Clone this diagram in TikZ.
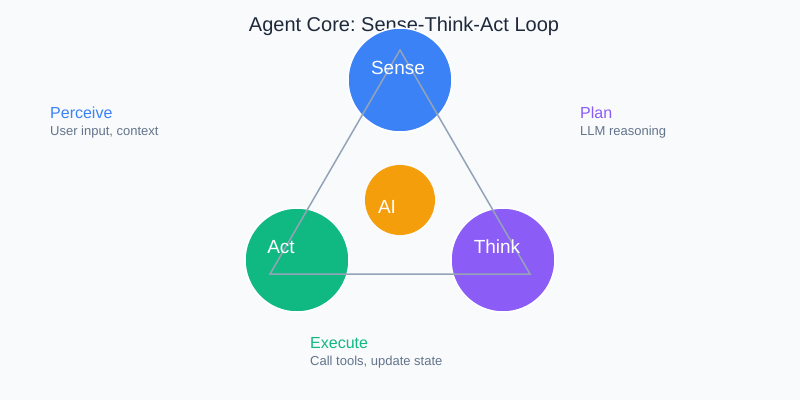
\documentclass[tikz,border=0pt]{standalone}
\usepackage{fontspec}
\setmainfont{Liberation Sans}
\usepackage{tikz}

\definecolor{bgcol}{HTML}{F8FAFC}
\definecolor{titlecol}{HTML}{1E293B}
\definecolor{subcol}{HTML}{64748B}
\definecolor{linecol}{HTML}{94A3B8}
\definecolor{sensecol}{HTML}{3B82F6}
\definecolor{thinkcol}{HTML}{8B5CF6}
\definecolor{actcol}{HTML}{10B981}
\definecolor{aicol}{HTML}{F59E0B}

\tikzset{
  stage/.style={circle, minimum size=104pt, draw=white, line width=1.5pt, inner sep=0pt},
  stagetext/.style={anchor=base, inner sep=0pt, text=white, font=\fontsize{19}{23}\selectfont},
  head/.style={anchor=base west, inner sep=0pt, font=\fontsize{16}{19}\selectfont},
  sub/.style={anchor=base west, inner sep=0pt, text=subcol, font=\fontsize{13}{16}\selectfont}
}

\begin{document}
\frenchspacing
\begin{tikzpicture}[x=1pt,y=-1pt]
      \fill[bgcol] (0,0) rectangle (800,400);
      \useasboundingbox (0,0) rectangle (800,400);

      \node[anchor=base, inner sep=0pt, text=titlecol, font=\fontsize{20}{24}\selectfont]
        (title) at (404,31) {Agent Core: Sense-Think-Act Loop};

      \node[stage, fill=sensecol] (sense) at (400,80)  {};
      \node[stage, fill=actcol]   (act)   at (297,260) {};
      \node[stage, fill=thinkcol] (think) at (503,260) {};
      \node[circle, minimum size=70pt, fill=aicol, inner sep=0pt] (ai) at (400,200) {};

      \coordinate (loop-top)   at (400,50);
      \coordinate (loop-left)  at (270,274);
      \coordinate (loop-right) at (530,274);
      \draw[linecol, line width=1.5pt, line join=miter]
        (loop-top) -- (loop-right) -- (loop-left) -- cycle;

      \node[stagetext] (sense-text) at (398,74)  {Sense};
      \node[stagetext] (act-text)   at (281,253) {Act};
      \node[stagetext] (think-text) at (497,253) {Think};
      \node[stagetext] (ai-text)    at (387,213) {AI};

      \node[head, text=sensecol] (perceive) at (50,118)  {Perceive};
      \node[sub]                 (perceive-sub) at (50,135.5) {User input, context};
      \node[head, text=thinkcol] (plan)     at (580,118) {Plan};
      \node[sub]                 (plan-sub) at (580,135.5) {LLM reasoning};
      \node[head, text=actcol]   (execute)  at (310,348) {Execute};
      \node[sub]                 (execute-sub) at (310,365.5) {Call tools, update state};
    \end{tikzpicture}
\end{document}
